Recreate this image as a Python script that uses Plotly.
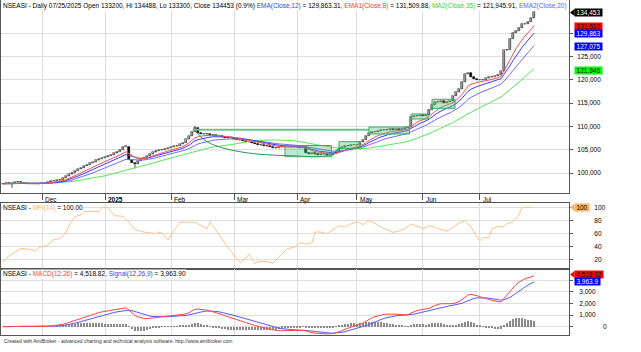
import numpy as np
import plotly.graph_objects as go

# ---------------- data ----------------
month_labels = ["Dec", "<b>2025</b>", "Feb", "Mar", "Apr", "May", "Jun", "Jul"]
month_start_idx = [13, 34, 56, 77, 98, 118, 140, 159]

closes = [
    # Nov 2024
    97700, 97800, 97650, 97900, 98100, 98000, 97900, 97800, 97700, 97650, 97700, 97600, 97700,
    # Dec
    97800, 97900, 98000, 98200, 98300, 98400, 98600, 98900, 99300, 99700, 100100, 100500, 100800,
    101100, 101500, 101800, 102100, 102300, 102700, 103000, 103200,
    # Jan 2025
    103400, 103700, 103900, 104200, 104600, 105000, 105600, 105600, 102800, 102200, 101900, 102600,
    102900, 103200, 103600, 104000, 104400, 104800, 104900, 105000, 105200, 105300,
    # Feb
    105500, 105700, 105900, 106200, 106500, 107200, 107900, 108900, 109700, 108500, 108300, 108400,
    108300, 108200, 108100, 108000, 107900, 107700, 107600, 107500, 107500,
    # Mar
    107300, 107100, 107000, 106900, 106700, 106600, 106400, 106300, 106100, 106000, 105800, 105700,
    105600, 105400, 105300, 105500, 105600, 105500, 105600, 105500, 105600,
    # Apr
    105500, 105400, 105500, 104300, 104100, 104200, 104000, 103900, 104100, 104000, 103900, 103800,
    104100, 104600, 105200, 105500, 105800, 105900, 106000, 106000,
    # May
    106100, 106600, 107100, 108000, 108600, 108800, 108900, 109000, 109200, 109300, 109200, 109400,
    109300, 109400, 109300, 109500, 109700, 109800, 112100, 112200, 112300, 112400,
    # Jun
    112300, 112500, 113600, 114700, 115300, 115200, 115400, 115100, 115300, 115400, 116500, 117300,
    118000, 119500, 121200, 121400, 120500, 120200, 119900,
    # Jul
    119900, 120000, 120300, 120500, 120700, 120800, 121100, 121800, 126300, 126500, 128800, 130100,
    130500, 131200, 131900, 132000, 132500, 133250, 134453,
]

opens = [
    97600, 97700, 97800, 97650, 97900, 98100, 98000, 97900, 97800, 97700, 97650, 97700, 97600,
    97700, 97800, 97900, 98000, 98200, 98300, 98400, 98600, 98900, 99300, 99700, 100100, 100500,
    100800, 101100, 101500, 101800, 102100, 102300, 102700, 103000,
    103200, 103400, 103700, 103900, 104200, 104600, 105000, 105600, 105600, 102800, 102200, 101900,
    102600, 102900, 103200, 103600, 104000, 104400, 104800, 104900, 105000, 105200,
    105300, 105500, 105700, 105900, 106200, 106500, 107200, 107900, 108900, 109700, 108500, 108300,
    108400, 108300, 108200, 108100, 108000, 107900, 107700, 107600, 107500,
    107500, 107300, 107100, 107000, 106900, 106700, 106600, 106400, 106300, 106100, 106000, 105800,
    105700, 105600, 105400, 105300, 105500, 105600, 105500, 105600, 105500,
    105600, 105500, 105400, 105500, 104300, 104100, 104200, 104000, 103900, 104100, 104000, 103900,
    103800, 104100, 104600, 105200, 105500, 105800, 105900, 106000,
    106000, 106100, 106600, 107100, 108000, 108600, 108800, 108900, 109000, 109200, 109300, 109200,
    109400, 109300, 109400, 109300, 109500, 109700, 109800, 112100, 112200, 112300,
    112400, 112300, 112500, 113600, 114700, 115300, 115200, 115400, 115100, 115300, 115400, 116500,
    117300, 118000, 119500, 121200, 121400, 120500, 120200,
    119900, 119900, 120000, 120300, 120500, 120700, 120800, 121100, 121800, 126300, 126500, 128800,
    130100, 130500, 131200, 131900, 132000, 132500, 133200,
]

wick_hi_idx = [64, 177]
wick_hi_val = [110100, 134488]
wick_lo_idx = [3, 44]
wick_lo_val = [96800, 101000]

# MFI(14) readings (bar index, value)
mfi_idx = [0, 1, 2, 6, 9, 11, 12, 15, 16, 17, 19, 21, 22, 24, 26, 27, 32, 33, 35, 37, 40, 42, 44, 47,
           51, 52, 53, 55, 57, 59, 64, 66, 68, 69, 71, 73, 76, 79, 81, 82, 84, 85, 88, 90, 92, 95,
           97, 99, 101, 103, 104, 106, 108, 110, 112, 114, 116, 118, 120, 122, 124, 126, 128, 130,
           132, 134, 136, 138, 140, 142, 144, 146, 148, 150, 152, 154, 156, 158, 159, 160, 162, 163,
           165, 167, 168, 170, 172, 173, 177]
mfi_val = [16, 22.5, 26, 37.5, 36, 34, 39, 42.5, 47.5, 51, 52.5, 61, 72.5, 86, 89, 94, 94, 100, 100,
           87.5, 86.5, 77.5, 66, 62.5, 60, 62.5, 61, 50, 65, 77.5, 77.5, 72.5, 67.5, 78.5, 65, 52.5,
           32.5, 16, 22.5, 29, 14, 17.5, 17.5, 15, 25, 37.5, 39, 46.5, 44, 46, 62.5, 62.5, 60, 66,
           72, 70, 75, 78, 74, 80, 76, 70, 66, 62, 64, 68, 75, 72, 68, 72, 70, 66, 64, 70, 76, 80,
           70, 55, 49, 54, 54, 67.5, 71, 71, 75.5, 78, 88.5, 100, 100]

# pattern overlays drawn by the chart (consolidation boxes, cup rim & cup curve)
box_start = [94, 112, 122, 136, 143]
box_end = [109.5, 119, 135.5, 141.7, 150.7]
box_low = [103500, 105300, 108370, 111590, 113880]
box_high = [105900, 106720, 109870, 112660, 115820]
rim_idx = [64, 122]
rim_val = [109300, 109300]
cup_idx = [64.7, 68, 73.3, 79, 84.7, 95.7, 108.3, 112.3]
cup_val = [108580, 106720, 105370, 104570, 104080, 103710, 103760, 105370]

# last-value labels shown on the right axis
price_labels = [134453, 131510, 129863, 127075, 121946]
macd_labels = [4518.82, 3963.9]
mfi_label = 100

# ---------------- indicator computation ----------------
def ema(vals, n):
    a = 2.0 / (n + 1)
    out = [float(vals[0])]
    for v in vals[1:]:
        out.append(out[-1] + a * (v - out[-1]))
    return np.array(out)


def sma(vals, n):
    v = np.asarray(vals, dtype=float)
    return np.array([v[max(0, i - n + 1): i + 1].mean() for i in range(len(v))])


c = np.array(closes, dtype=float)
o = np.array(opens, dtype=float)
x = np.arange(len(c))
hi = np.maximum(o, c)
lo = np.minimum(o, c)
for i, v in zip(wick_hi_idx, wick_hi_val):
    hi[i] = max(hi[i], v)
for i, v in zip(wick_lo_idx, wick_lo_val):
    lo[i] = min(lo[i], v)

ema8 = ema(c, 8)
ema12 = ema(c, 12)
ema20 = ema(c, 20)
ma35 = sma(c, 35)
macd = ema(c, 12) - ema(c, 26)
signal = ema(macd, 9)
hist = macd - signal

# ---------------- figure ----------------
FONT = "Liberation Sans, Arial, sans-serif"
FS = 6.5
GRID = "#dedede"
LINE = "#555555"

fig = go.Figure()

# candle wicks
wx, wy = [], []
for i in range(len(c)):
    wx += [i, i, None]
    wy += [lo[i], hi[i], None]
fig.add_trace(go.Scatter(x=wx, y=wy, mode="lines", line=dict(color="#222222", width=0.8),
                         xaxis="x", yaxis="y", hoverinfo="skip"))

up = c >= o
body = np.maximum(np.abs(c - o), 90)
base = np.minimum(o, c)
fig.add_trace(go.Bar(x=x[up], y=body[up], base=base[up], width=0.8,
                     marker=dict(color="white", line=dict(color="#222222", width=0.6)),
                     xaxis="x", yaxis="y"))
fig.add_trace(go.Bar(x=x[~up], y=body[~up], base=base[~up], width=0.8,
                     marker=dict(color="black", line=dict(color="black", width=0.6)),
                     xaxis="x", yaxis="y"))

# moving averages
fig.add_trace(go.Scatter(x=x, y=ma35, mode="lines", line=dict(color="rgb(90,230,90)", width=1),
                         xaxis="x", yaxis="y"))
fig.add_trace(go.Scatter(x=x, y=ema20, mode="lines", line=dict(color="rgb(110,110,255)", width=1),
                         xaxis="x", yaxis="y"))
fig.add_trace(go.Scatter(x=x, y=ema12, mode="lines", line=dict(color="rgb(60,60,255)", width=1),
                         xaxis="x", yaxis="y"))
fig.add_trace(go.Scatter(x=x, y=ema8, mode="lines", line=dict(color="rgb(255,80,80)", width=1),
                         xaxis="x", yaxis="y"))

# cup rim and cup curve
fig.add_trace(go.Scatter(x=rim_idx, y=rim_val, mode="lines",
                         line=dict(color="rgb(100,200,140)", width=2), xaxis="x", yaxis="y"))
fig.add_trace(go.Scatter(x=cup_idx, y=cup_val, mode="lines", line_shape="spline",
                         line=dict(color="rgb(40,150,90)", width=1), xaxis="x", yaxis="y"))

# MFI
fig.add_trace(go.Scatter(x=mfi_idx, y=mfi_val, mode="lines",
                         line=dict(color="rgb(255,195,140)", width=1), xaxis="x2", yaxis="y2"))

# MACD
fig.add_trace(go.Bar(x=x, y=hist, width=0.2, marker=dict(color="#8a8a8a", line=dict(width=0)),
                     xaxis="x3", yaxis="y3"))
fig.add_trace(go.Scatter(x=x, y=signal, mode="lines", line=dict(color="rgb(90,90,255)", width=1),
                         xaxis="x3", yaxis="y3"))
fig.add_trace(go.Scatter(x=x, y=macd, mode="lines", line=dict(color="rgb(255,70,70)", width=1),
                         xaxis="x3", yaxis="y3"))

# consolidation boxes
shapes = []
for s, e, l, h in zip(box_start, box_end, box_low, box_high):
    shapes.append(dict(type="rect", xref="x", yref="y", x0=s, x1=e, y0=l, y1=h,
                       fillcolor="rgba(70,190,110,0.35)", line=dict(color="rgb(60,170,100)", width=1),
                       layer="above"))

H = 335.0
dom_main = [1 - 193 / H, 1]
dom_mfi = [1 - 269 / H, 1 - 203 / H]
dom_macd = [0, 1 - 269 / H]

xcommon = dict(range=[-0.667, 188.67], tickvals=month_start_idx, showticklabels=False,
               showgrid=True, gridcolor=GRID, gridwidth=1, zeroline=False, showline=True,
               linecolor=LINE, linewidth=1, mirror=True, fixedrange=True)
ycommon = dict(side="right", showgrid=True, gridcolor=GRID, gridwidth=1, zeroline=False,
               showline=True, linecolor=LINE, linewidth=1, mirror=True, ticks="outside",
               ticklen=3, tickcolor=LINE, tickfont=dict(family=FONT, size=FS, color="black"),
               fixedrange=True)

annotations = []
# header texts
header = ('NSEASI - Daily 07/25/2025 Open 133200, Hi 134488, Lo 133300, Close 134453 (0.9%) '
          '<span style="color:#3c3cff">EMA(Close,12)</span> = 129,863.31, '
          '<span style="color:#ff3c3c">EMA1(Close,8)</span> = 131,509.88, '
          '<span style="color:#3cd23c">MA2(Close,35)</span> = 121,945.91, '
          '<span style="color:#6060ff">EMA2(Close,20)</span>')
annotations.append(dict(text=header, xref="paper", yref="paper", x=0, y=1, xanchor="left",
                        yanchor="top", xshift=1, yshift=-1, showarrow=False, bgcolor="white",
                        borderpad=0, font=dict(family=FONT, size=FS, color="black")))
annotations.append(dict(text='NSEASI - <span style="color:#ffb070">MFI(14)</span> = 100.00',
                        xref="paper", yref="paper", x=0, y=dom_mfi[1], xanchor="left",
                        yanchor="top", xshift=1, yshift=0, showarrow=False, bgcolor="white",
                        borderpad=0, font=dict(family=FONT, size=FS, color="black")))
annotations.append(dict(text='NSEASI - <span style="color:#ff4040">MACD(12,26)</span> = 4,518.82, '
                             '<span style="color:#4040ff">Signal(12,26,9)</span> = 3,963.90',
                        xref="paper", yref="paper", x=0, y=dom_macd[1], xanchor="left",
                        yanchor="top", xshift=1, yshift=0, showarrow=False, bgcolor="white",
                        borderpad=0, font=dict(family=FONT, size=FS, color="black")))
annotations.append(dict(text="Created with AmiBroker - advanced charting and technical analysis "
                             "software. http://www.amibroker.com",
                        xref="paper", yref="paper", x=0, y=0, xanchor="left", yanchor="top",
                        xshift=1, yshift=-1, showarrow=False,
                        font=dict(family=FONT, size=5, color="#333333")))

# month labels
for lab, idx in zip(month_labels, month_start_idx):
    annotations.append(dict(text=lab, xref="x", yref="paper", x=idx, y=dom_main[0],
                            xanchor="left", yanchor="top", xshift=1, yshift=-1, showarrow=False,
                            font=dict(family=FONT, size=FS, color="black")))

# MACD zero label
annotations.append(dict(text="0", xref="paper", yref="y3", x=1, y=0, xanchor="right",
                        yanchor="middle", xshift=40, showarrow=False,
                        font=dict(family=FONT, size=FS, color="black")))

ARROW = "M1,0 L5.5,3.5 L5.5,-3.5 Z"

label_colors = [("black", "white", True), ("#ff0000", "black", False), ("#0000ff", "white", False),
                ("#0000ff", "white", False), ("#00ff00", "black", False)]
for v, (bg, fg, ar) in zip(price_labels, label_colors):
    annotations.append(dict(text=f"{v:,}", xref="paper", yref="y", x=1, y=v, xanchor="left",
                            yanchor="middle", xshift=5, showarrow=False, bgcolor=bg, borderpad=0,
                            width=27, height=7, align="center",
                            font=dict(family=FONT, size=FS, color=fg)))
    if ar:
        shapes.append(dict(type="path", xref="paper", yref="y", xsizemode="pixel",
                           ysizemode="pixel", xanchor=1, yanchor=v, path=ARROW, fillcolor=bg,
                           line=dict(width=0), layer="above"))

# MFI label
annotations.append(dict(text=f"{mfi_label}", xref="paper", yref="y2", x=1, y=mfi_label,
                        xanchor="left", yanchor="middle", xshift=5, showarrow=False,
                        bgcolor="#ffb060", borderpad=0, width=14, height=7, align="center",
                        font=dict(family=FONT, size=FS, color="black")))
shapes.append(dict(type="path", xref="paper", yref="y2", xsizemode="pixel", ysizemode="pixel",
                   xanchor=1, yanchor=mfi_label, path=ARROW, fillcolor="#ffb060",
                   line=dict(width=0), layer="above"))

# MACD labels
annotations.append(dict(text=f"{macd_labels[0]:,.2f}", xref="paper", yref="y3", x=1,
                        y=macd_labels[0], xanchor="left", yanchor="middle", xshift=5,
                        showarrow=False, bgcolor="#ff0000", borderpad=0, width=28, height=7,
                        align="center", font=dict(family=FONT, size=FS, color="black")))
shapes.append(dict(type="path", xref="paper", yref="y3", xsizemode="pixel", ysizemode="pixel",
                   xanchor=1, yanchor=macd_labels[0], path=ARROW, fillcolor="#ff0000",
                   line=dict(width=0), layer="above"))
annotations.append(dict(text=f"{macd_labels[1]:,.1f}", xref="paper", yref="y3", x=1,
                        y=macd_labels[1] - 80, xanchor="left", yanchor="middle", xshift=5,
                        showarrow=False, bgcolor="#0000ff", borderpad=0, width=25, height=7,
                        align="center", font=dict(family=FONT, size=FS, color="white")))

fig.update_layout(
    width=641, height=352,
    margin=dict(l=1, r=72, t=0, b=17),
    paper_bgcolor="white", plot_bgcolor="white",
    showlegend=False, barmode="overlay", bargap=0,
    font=dict(family=FONT, size=FS, color="black"),
    xaxis=dict(**xcommon, anchor="y", ticks="outside", ticklen=6, tickcolor=LINE),
    xaxis2=dict(**xcommon, anchor="y2", matches="x", ticks=""),
    xaxis3=dict(**xcommon, anchor="y3", matches="x", ticks=""),
    yaxis=dict(**ycommon, domain=dom_main, anchor="x", range=[95708, 137124],
               tickvals=[100000, 105000, 110000, 115000, 120000, 125000, 130000],
               tickformat=",", ticklabelstandoff=3),
    yaxis2=dict(**ycommon, domain=dom_mfi, anchor="x2", range=[6.1, 106.9],
                tickvals=[20, 40, 60, 80, 100], ticklabelstandoff=20),
    yaxis3=dict(**ycommon, domain=dom_macd, anchor="x3", range=[-717, 4987],
                tickvals=[0, 1000, 2000, 3000, 4000],
                ticktext=["", "1,000", "2,000", "3,000", ""], ticklabelstandoff=5),
    shapes=shapes,
    annotations=annotations,
)

fig.write_html("out.html", config={"displayModeBar": False})
